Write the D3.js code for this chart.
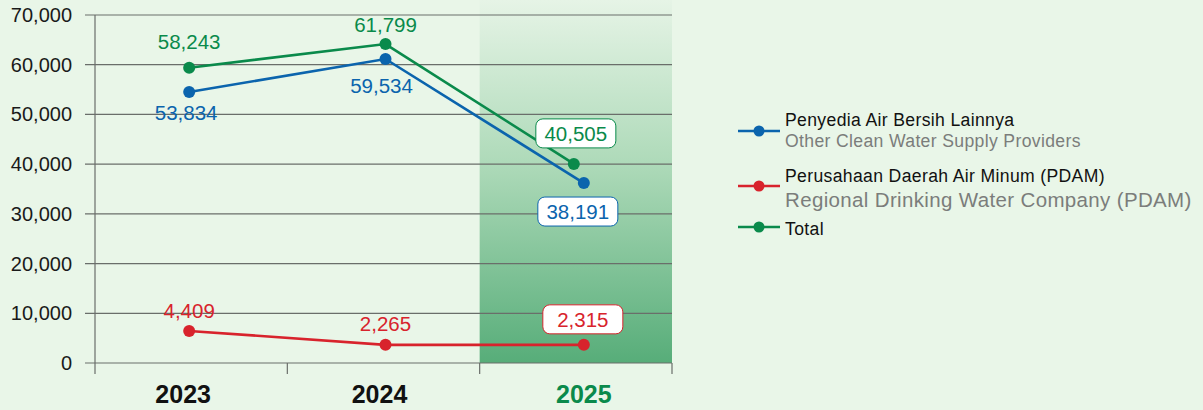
<!DOCTYPE html>
<html>
<head>
<meta charset="utf-8">
<script src="https://cdn.jsdelivr.net/npm/d3@7"></script>
<style>
  body { margin: 0; background: #e9f6e8; }
  svg { display: block; font-family: "Liberation Sans", Arial, sans-serif; }
</style>
</head>
<body>
<svg id="chart" width="1203" height="410"></svg>
<script>
const years = ["2023", "2024", "2025"];
const yTicks = [0, 10000, 20000, 30000, 40000, 50000, 60000, 70000];

// values as plotted in the picture, labels as printed
const otherValues = [54500, 61150, 36200];
const pdamValues = [6450, 3650, 3650];
const totalValues = [59400, 64150, 40050];

const otherLabels = ["53,834", "59,534", "38,191"];
const pdamLabels = ["4,409", "2,265", "2,315"];
const totalLabels = ["58,243", "61,799", "40,505"];

const seriesNames = [
    ["Penyedia Air Bersih Lainnya", "Other Clean Water Supply Providers"],
    ["Perusahaan Daerah Air Minum (PDAM)", "Regional Drinking Water Company (PDAM)"],
    ["Total"]
];

const blue = "#0b64ad", red = "#d8232c", green = "#0a8a4b";

const svg = d3.select("#chart");

const x = d3.scaleBand().domain(years).range([95, 672]);
const y = d3.scaleLinear().domain([0, 70000]).range([363, 15]);

// Gradient for the highlighted 2025 column
const defs = svg.append("defs");
const grad = defs.append("linearGradient")
    .attr("id", "hl").attr("x1", 0).attr("y1", 0).attr("x2", 0).attr("y2", 1);
grad.append("stop").attr("offset", "0%").attr("stop-color", "#e6f4e6");
grad.append("stop").attr("offset", "45%").attr("stop-color", "#aedab9");
grad.append("stop").attr("offset", "100%").attr("stop-color", "#57ad79");

svg.append("rect")
    .attr("x", x("2025"))
    .attr("y", 0)
    .attr("width", x.bandwidth())
    .attr("height", y(0))
    .attr("fill", "url(#hl)");

// Grid lines
svg.selectAll(".grid")
    .data(yTicks)
    .enter()
    .append("line")
    .attr("x1", 85).attr("x2", 672)
    .attr("y1", d => y(d)).attr("y2", d => y(d))
    .attr("stroke", "#6a6e6a")
    .attr("stroke-width", 1.2);

// Y axis labels
svg.selectAll(".ylab")
    .data(yTicks)
    .enter()
    .append("text")
    .attr("x", 72)
    .attr("y", d => y(d) + 7)
    .attr("text-anchor", "end")
    .attr("font-size", 20)
    .attr("fill", "#1a1a1a")
    .text(d => d3.format(",")(d));

// Y axis line
svg.append("line")
    .attr("x1", 95).attr("x2", 95)
    .attr("y1", y(70000)).attr("y2", y(0) + 11)
    .attr("stroke", "#6a6e6a").attr("stroke-width", 1.2);

// X ticks at band edges
svg.selectAll(".xtick")
    .data(years)
    .enter()
    .append("line")
    .attr("x1", d => x(d) + x.bandwidth())
    .attr("x2", d => x(d) + x.bandwidth())
    .attr("y1", y(0)).attr("y2", y(0) + 11)
    .attr("stroke", "#6a6e6a").attr("stroke-width", 1.2);

// Year labels (a little off-centre in the original)
const yearShift = [-8, -4, 8];
svg.selectAll(".xlab")
    .data(years)
    .enter()
    .append("text")
    .attr("x", (d, i) => x(d) + x.bandwidth() / 2 + yearShift[i])
    .attr("y", 403)
    .attr("text-anchor", "middle")
    .attr("font-size", 25)
    .attr("font-weight", "bold")
    .attr("fill", d => d === "2025" ? green : "#111")
    .text(d => d);

const cx = (d, i) => x(years[i]) + x.bandwidth() / 2;

function drawSeries(values, color, dx) {
    const pts = values.map((v, i) => [cx(v, i) + (dx[i] || 0), y(v)]);
    svg.append("path")
        .attr("d", d3.line()(pts))
        .attr("fill", "none")
        .attr("stroke", color)
        .attr("stroke-width", 2.6);
    svg.selectAll(null)
        .data(pts)
        .enter()
        .append("circle")
        .attr("cx", d => d[0]).attr("cy", d => d[1])
        .attr("r", 6)
        .attr("fill", color);
    return pts;
}

const pdamPts = drawSeries(pdamValues, red, [-2, 2, 8]);
const otherPts = drawSeries(otherValues, blue, [-2, 2, 8]);
const totalPts = drawSeries(totalValues, green, [-2, 2, -2]);

function drawLabels(pts, labels, color, dys, boxed, dxs) {
    labels.forEach((lab, i) => {
        const lx = pts[i][0] + (dxs[i] || 0);
        const ly = pts[i][1] + dys[i];
        if (boxed[i]) {
            const w = 80, h = 29;
            svg.append("rect")
                .attr("x", lx - w / 2).attr("y", ly - 22)
                .attr("width", w).attr("height", h)
                .attr("rx", 7)
                .attr("fill", "#fff")
                .attr("stroke", color)
                .attr("stroke-width", 1);
        }
        svg.append("text")
            .attr("x", lx).attr("y", ly)
            .attr("text-anchor", "middle")
            .attr("font-size", 20.5)
            .attr("fill", color)
            .text(lab);
    });
}

drawLabels(totalPts, totalLabels, green, [-19, -12, -23], [false, false, true], [0, 0, 2]);
drawLabels(otherPts, otherLabels, blue, [28, 34, 36], [false, false, true], [-3, -4, -6]);
drawLabels(pdamPts, pdamLabels, red, [-13, -14, -18], [false, false, true], [0, 0, -1]);

// Legend
const legend = svg.append("g").attr("letter-spacing", "0.35px");
const legendColors = [blue, red, green];
const markerY = [131, 186, 227];
const textY = [[126, 147], [182, 207], [235]];
const subSize = [17.6, 20.5];

seriesNames.forEach((names, i) => {
    legend.append("line")
        .attr("x1", 738).attr("x2", 780)
        .attr("y1", markerY[i]).attr("y2", markerY[i])
        .attr("stroke", legendColors[i]).attr("stroke-width", 2.6);
    legend.append("circle")
        .attr("cx", 759).attr("cy", markerY[i]).attr("r", 5.5)
        .attr("fill", legendColors[i]);
    legend.append("text")
        .attr("x", 785).attr("y", textY[i][0])
        .attr("font-size", 17.6)
        .attr("fill", "#111")
        .text(names[0]);
    if (names[1]) {
        legend.append("text")
            .attr("x", 785).attr("y", textY[i][1])
            .attr("font-size", subSize[i])
            .attr("fill", "#7b7d7b")
            .text(names[1]);
    }
});
</script>
</body>
</html>
